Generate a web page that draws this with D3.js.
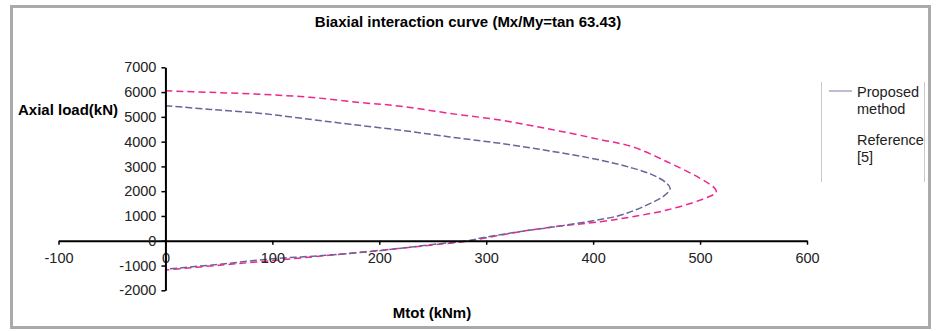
<!DOCTYPE html>
<html>
<head>
<meta charset="utf-8">
<script src="https://cdn.jsdelivr.net/npm/d3@7"></script>
<style>
  body { margin: 0; background: #fff; }
  svg { font-family: Arial, "Liberation Sans", sans-serif; }
  .axis text { font-size: 14.5px; fill: #222; }
  .axis line, .axis path { stroke: #000; }
  .axis path { stroke-width: 2; }
</style>
</head>
<body>
<div id="chart"></div>
<script>
// Mtot (kNm) / Axial load (kN) pairs, in drawing order
const proposedM = [0, 42, 89, 135, 173, 220, 266, 313, 360, 407, 437, 456, 468, 472,
                   466, 456, 440, 422, 400, 370, 332, 300, 282, 250, 200, 150, 100, 50, 0];
const proposedN = [5450, 5300, 5140, 4900, 4700, 4460, 4190, 3930, 3620, 3250, 2930, 2650, 2350, 2100,
                   1800, 1560, 1250, 990, 810, 600, 370, 150, 0, -150, -400, -590, -730, -950, -1150];

const referenceM = [0, 42, 89, 135, 182, 220, 266, 313, 360, 407, 437, 469, 500, 514, 515,
                    500, 469, 437, 407, 363, 332, 300, 285, 250, 200, 150, 100, 50, 0];
const referenceN = [6050, 5990, 5910, 5790, 5580, 5430, 5140, 4870, 4500, 4080, 3790, 3190, 2520, 2100, 1950,
                    1640, 1240, 970, 770, 565, 370, 120, 0, -170, -390, -600, -800, -990, -1180];

const xTicks = [-100, 0, 100, 200, 300, 400, 500, 600];
const yTicks = [-2000, -1000, 0, 1000, 2000, 3000, 4000, 5000, 6000, 7000];

const width = 937, height = 331;

const svg = d3.select("#chart").append("svg")
    .attr("width", width)
    .attr("height", height);

// outer frame
svg.append("rect")
    .attr("x", 11.5).attr("y", 6.5)
    .attr("width", 918).attr("height", 321)
    .attr("fill", "#fff")
    .attr("stroke", "#aaaaaa")
    .attr("stroke-width", 3);

let x = d3.scaleLinear().domain([-100, 600]).range([58.5, 807]);
let y = d3.scaleLinear().domain([-2000, 7000]).range([290.3, 67.3]);

// title
svg.append("text")
    .attr("x", 468).attr("y", 27)
    .attr("text-anchor", "middle")
    .style("font-size", "15px").style("font-weight", "bold")
    .text("Biaxial interaction curve (Mx/My=tan 63.43)");

// curves
let line = d3.line()
    .x(d => x(d[0]))
    .y(d => y(d[1]))
    .curve(d3.curveCatmullRom.alpha(0.5));

const proposed = proposedM.map((m, i) => [m, proposedN[i]]);
const reference = referenceM.map((m, i) => [m, referenceN[i]]);

svg.append("path")
    .datum(reference)
    .attr("fill", "none")
    .attr("stroke", "#f0268e")
    .attr("stroke-width", 1.5)
    .attr("stroke-dasharray", "7,4")
    .attr("d", line);

svg.append("path")
    .datum(proposed)
    .attr("fill", "none")
    .attr("stroke", "#66669a")
    .attr("stroke-width", 1.5)
    .attr("stroke-dasharray", "7,3")
    .attr("d", line);

// plain integer labels with an ASCII hyphen for negatives
const fmt = d => String(d);

// x axis through zero load
svg.append("g")
    .attr("class", "axis axis-x")
    .attr("transform", "translate(0," + y(0) + ")")
    .call(d3.axisBottom(x).tickValues(xTicks).tickFormat(fmt).tickSize(4).tickSizeOuter(0).tickPadding(8))
    .selectAll("line").attr("stroke-width", 1.5);

// y axis through zero moment
svg.append("g")
    .attr("class", "axis axis-y")
    .attr("transform", "translate(" + x(0) + ",0)")
    .call(d3.axisLeft(y).tickValues(yTicks).tickFormat(fmt).tickSize(4).tickSizeOuter(0).tickPadding(5))
    .selectAll("line").attr("stroke-width", 1.5);

// axis titles
svg.append("text")
    .attr("x", 18).attr("y", 115)
    .style("font-size", "15px").style("font-weight", "bold")
    .text("Axial load(kN)");

svg.append("text")
    .attr("x", 432).attr("y", 318)
    .attr("text-anchor", "middle")
    .style("font-size", "15px").style("font-weight", "bold")
    .text("Mtot (kNm)");

// legend
let legend = svg.append("g").attr("class", "legend");
legend.append("line")
    .attr("x1", 821.5).attr("x2", 821.5).attr("y1", 82).attr("y2", 182)
    .attr("stroke", "#cfc8c8");
legend.append("line")
    .attr("x1", 924.5).attr("x2", 924.5).attr("y1", 82).attr("y2", 182)
    .attr("stroke", "#cfc8c8");
legend.append("line")
    .attr("x1", 829).attr("x2", 852).attr("y1", 91).attr("y2", 91)
    .attr("stroke", "#7a7aa8").attr("stroke-width", 1);

const legendLines = [["Proposed", "method"], ["Reference", "[5]"]];
legendLines.forEach((pair, i) => {
    pair.forEach((t, j) => {
        legend.append("text")
            .attr("x", 857)
            .attr("y", 97 + i * 48 + j * 17)
            .style("font-size", "14.5px")
            .style("fill", "#222")
            .text(t);
    });
});
</script>
</body>
</html>
